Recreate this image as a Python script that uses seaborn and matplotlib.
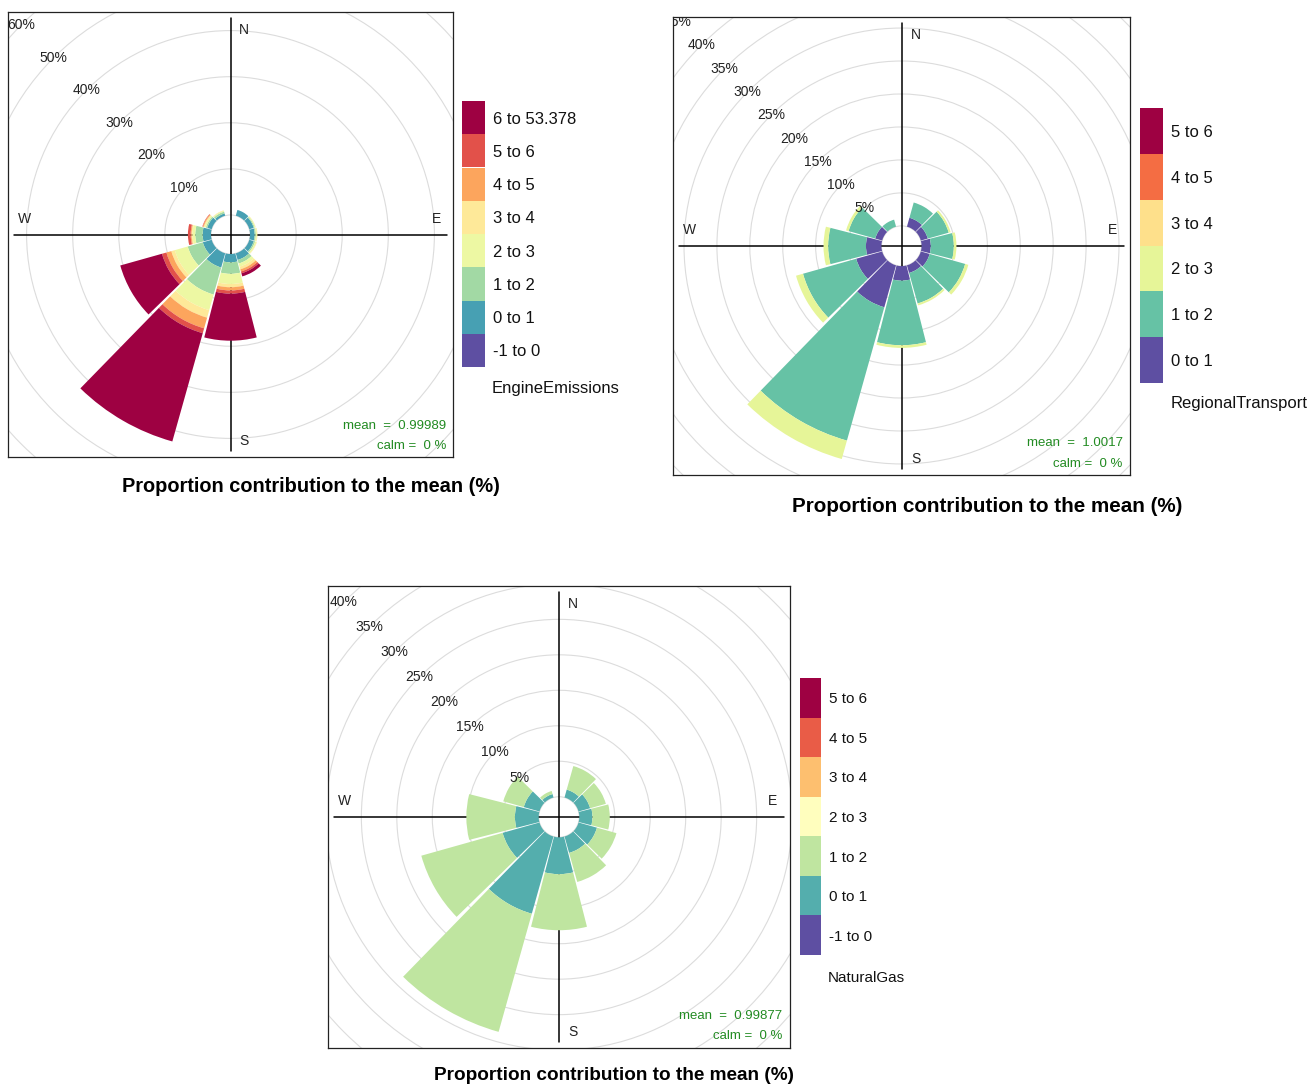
import numpy as np
import matplotlib
matplotlib.use('Agg')
import matplotlib.pyplot as plt
from matplotlib.patches import Wedge, Circle
import seaborn as sns

FIG_W, FIG_H = 1309, 1086
OUT_FILE_NAME = 'out.png'

# wind sectors (degrees from north, clockwise), 30 degree bins
DIRECTIONS = [0, 30, 60, 90, 120, 150, 180, 210, 240, 270, 300, 330]

# RColorBrewer "Spectral" (openair default colours)
SPECTRAL = ['#9E0142', '#D53E4F', '#F46D43', '#FDAE61', '#FEE08B', '#FFFFBF',
            '#E6F598', '#ABDDA4', '#66C2A5', '#3288BD', '#5E4FA2']

# EngineEmissions: contribution (%) of each interval per sector
engine_labels = ['-1 to 0', '0 to 1', '1 to 2', '2 to 3', '3 to 4',
                 '4 to 5', '5 to 6', '6 to 53.378']
engine_bands = [
    [0, 0, 0, 0, 0, 0, 0, 0, 0, 0, 0, 0],
    [0, 1.3, 1.0, 1.0, 1.0, 1.5, 1.8, 3.2, 2.0, 1.8, 1.0, 0.5],
    [0, 0, 0.2, 0.25, 0.3, 0.8, 2.5, 6.1, 3.4, 1.6, 0.3, 0.4],
    [0, 0, 0.2, 0.25, 0.3, 0.7, 2.2, 3.5, 2.9, 0.6, 0.3, 0.2],
    [0, 0, 0.05, 0.1, 0.1, 0.6, 0.7, 1.7, 0.8, 0.2, 0.2, 0.1],
    [0, 0, 0, 0, 0, 0.5, 0.7, 2.4, 1.1, 0.2, 0.2, 0],
    [0, 0, 0, 0, 0, 0.4, 0.7, 1.1, 1.0, 0.6, 0.1, 0],
    [0, 0, 0, 0, 0, 0.7, 10.2, 24.4, 9.4, 0, 0, 0],
]
engine_mean = '0.99989'

# RegionalTransport
regional_labels = ['0 to 1', '1 to 2', '2 to 3', '3 to 4', '4 to 5', '5 to 6']
regional_bands = [
    [0, 1.4, 1.1, 1.4, 1.4, 1.2, 2.2, 6.6, 4.1, 2.35, 1.1, 0],
    [0, 2.4, 3.3, 3.5, 5.6, 4.8, 9.8, 21.0, 8.4, 5.75, 4.2, 1.1],
    [0, 0, 0.3, 0.4, 0.5, 0.3, 0.4, 2.9, 1.1, 0.7, 0.4, 0],
    [0, 0, 0, 0, 0, 0, 0, 0, 0, 0, 0, 0],
    [0, 0, 0, 0, 0, 0, 0, 0, 0, 0, 0, 0],
    [0, 0, 0, 0, 0, 0, 0, 0, 0, 0, 0, 0],
]
regional_mean = '1.0017'

# NaturalGas
gas_labels = ['-1 to 0', '0 to 1', '1 to 2', '2 to 3', '3 to 4',
              '4 to 5', '5 to 6']
gas_bands = [
    [0, 0, 0, 0, 0, 0, 0, 0, 0, 0, 0, 0],
    [0, 1.15, 1.7, 1.85, 2.7, 2.4, 5.2, 11.3, 5.4, 3.35, 2.3, 0.5],
    [0, 3.45, 2.3, 2.45, 2.85, 4.25, 7.9, 17.3, 11.9, 6.85, 3.0, 0.45],
    [0, 0, 0, 0, 0, 0, 0, 0, 0, 0, 0, 0],
    [0, 0, 0, 0, 0, 0, 0, 0, 0, 0, 0, 0],
    [0, 0, 0, 0, 0, 0, 0, 0, 0, 0, 0, 0],
    [0, 0, 0, 0, 0, 0, 0, 0, 0, 0, 0, 0],
]
gas_mean = '0.99877'

TITLE = 'Proportion contribution to the mean (%)'


def _px_axes(fig, left, top, width, height):
    return fig.add_axes([left / FIG_W, 1 - (top + height) / FIG_H,
                         width / FIG_W, height / FIG_H])


def _plot_rose(ax, bands, colors, step, mean_value):
    bands = np.array(bands, dtype=float)
    cum = np.cumsum(bands, axis=0)
    max_total = cum[-1].max()
    hole = 0.1 * max_total
    lim = 1.035 * (max_total + hole)
    gap = 0.7

    ax.set_xlim(-lim, lim)
    ax.set_ylim(-lim, lim)
    ax.set_xticks([])
    ax.set_yticks([])
    for spine in ax.spines.values():
        spine.set_color('#222222')
        spine.set_linewidth(0.9)

    # grid circles, starting at the edge of the central hole
    for pct in np.arange(0, 1.5 * lim, step):
        r = hole + pct
        ax.add_patch(Circle((0, 0), r, fill=False, ec='#dcdcdc', lw=0.8,
                            zorder=1))
        if pct > 0:
            ax.text(-r * np.sin(np.pi / 4), r * np.cos(np.pi / 4),
                    '{0:g}%'.format(pct), ha='center', va='center',
                    fontsize=10, color='#222222', zorder=5, clip_on=True)

    axis_len = 0.972 * lim
    ax.plot([-axis_len, axis_len], [0, 0], color='black', lw=1.1, zorder=2)
    ax.plot([0, 0], [-axis_len, axis_len], color='black', lw=1.1, zorder=2)

    for j, direction in enumerate(DIRECTIONS):
        inner = hole
        for i in range(len(bands)):
            if bands[i, j] <= 0:
                continue
            outer = hole + cum[i, j]
            ax.add_patch(Wedge((0, 0), outer,
                               90 - direction - 15 + gap,
                               90 - direction + 15 - gap,
                               width=outer - inner, fc=colors[i], ec='none',
                               zorder=3))
            inner = outer

    for label, x, y in [('N', 0.531, 0.96), ('S', 0.531, 0.035),
                        ('W', 0.036, 0.534), ('E', 0.962, 0.534)]:
        ax.text(x, y, label, transform=ax.transAxes, ha='center',
                va='center', fontsize=10, color='#222222', zorder=6)

    ax.text(0.984, 0.07, 'mean  =  ' + mean_value, transform=ax.transAxes,
            ha='right', va='center', fontsize=9.5, color='forestgreen',
            zorder=6)
    ax.text(0.984, 0.025, 'calm =  0 %', transform=ax.transAxes,
            ha='right', va='center', fontsize=9.5, color='forestgreen',
            zorder=6)


def _plot_key(ax, labels, colors, fontsize):
    n = len(labels)
    for i in range(n):
        ax.bar(0, 1, bottom=i, width=1, color=colors[i], edgecolor='none')
    ax.set_xlim(-0.5, 0.5)
    ax.set_ylim(0, n)
    ax.set_xticks([])
    ax.yaxis.tick_right()
    ax.set_yticks(np.arange(n) + 0.5)
    ax.set_yticklabels(labels, fontsize=fontsize, color='#111111')
    ax.tick_params(axis='y', length=0, pad=6)
    for spine in ax.spines.values():
        spine.set_visible(False)


def draw_panel(fig, box, key_box, labels, bands, step, mean_value, name,
               title_xy, name_xy, title_size, key_size):
    colors = sns.blend_palette(SPECTRAL[::-1], len(labels))
    ax = _px_axes(fig, *box)
    _plot_rose(ax, bands, colors, step, mean_value)
    key_ax = _px_axes(fig, *key_box)
    _plot_key(key_ax, labels, colors, key_size)
    fig.text(name_xy[0] / FIG_W, 1 - name_xy[1] / FIG_H, name,
             ha='left', va='center', fontsize=key_size, color='#111111')
    fig.text(title_xy[0] / FIG_W, 1 - title_xy[1] / FIG_H, TITLE,
             ha='center', va='center', fontsize=title_size,
             fontweight='bold', color='black')


def main():
    sns.set_theme(style='white')
    plt.rcParams['font.family'] = ['Liberation Sans', 'DejaVu Sans']

    fig = plt.figure(figsize=(FIG_W / 100, FIG_H / 100), dpi=100)
    fig.patch.set_facecolor('white')

    draw_panel(fig, (8, 12, 445, 445), (462, 101, 23, 266),
               engine_labels, engine_bands, 10, engine_mean,
               'EngineEmissions', (311, 487), (492, 388), 14.4, 12)
    draw_panel(fig, (673, 17, 457, 458), (1140, 108, 23, 275),
               regional_labels, regional_bands, 5, regional_mean,
               'RegionalTransport', (987, 506), (1171, 404), 14.9, 12)
    draw_panel(fig, (328, 586, 462, 462), (800, 678, 21, 277),
               gas_labels, gas_bands, 5, gas_mean,
               'NaturalGas', (614, 1076), (828, 978), 13.7, 11)

    fig.savefig(OUT_FILE_NAME, dpi=100, facecolor='white')
    plt.close(fig)


if __name__ == '__main__':
    main()
